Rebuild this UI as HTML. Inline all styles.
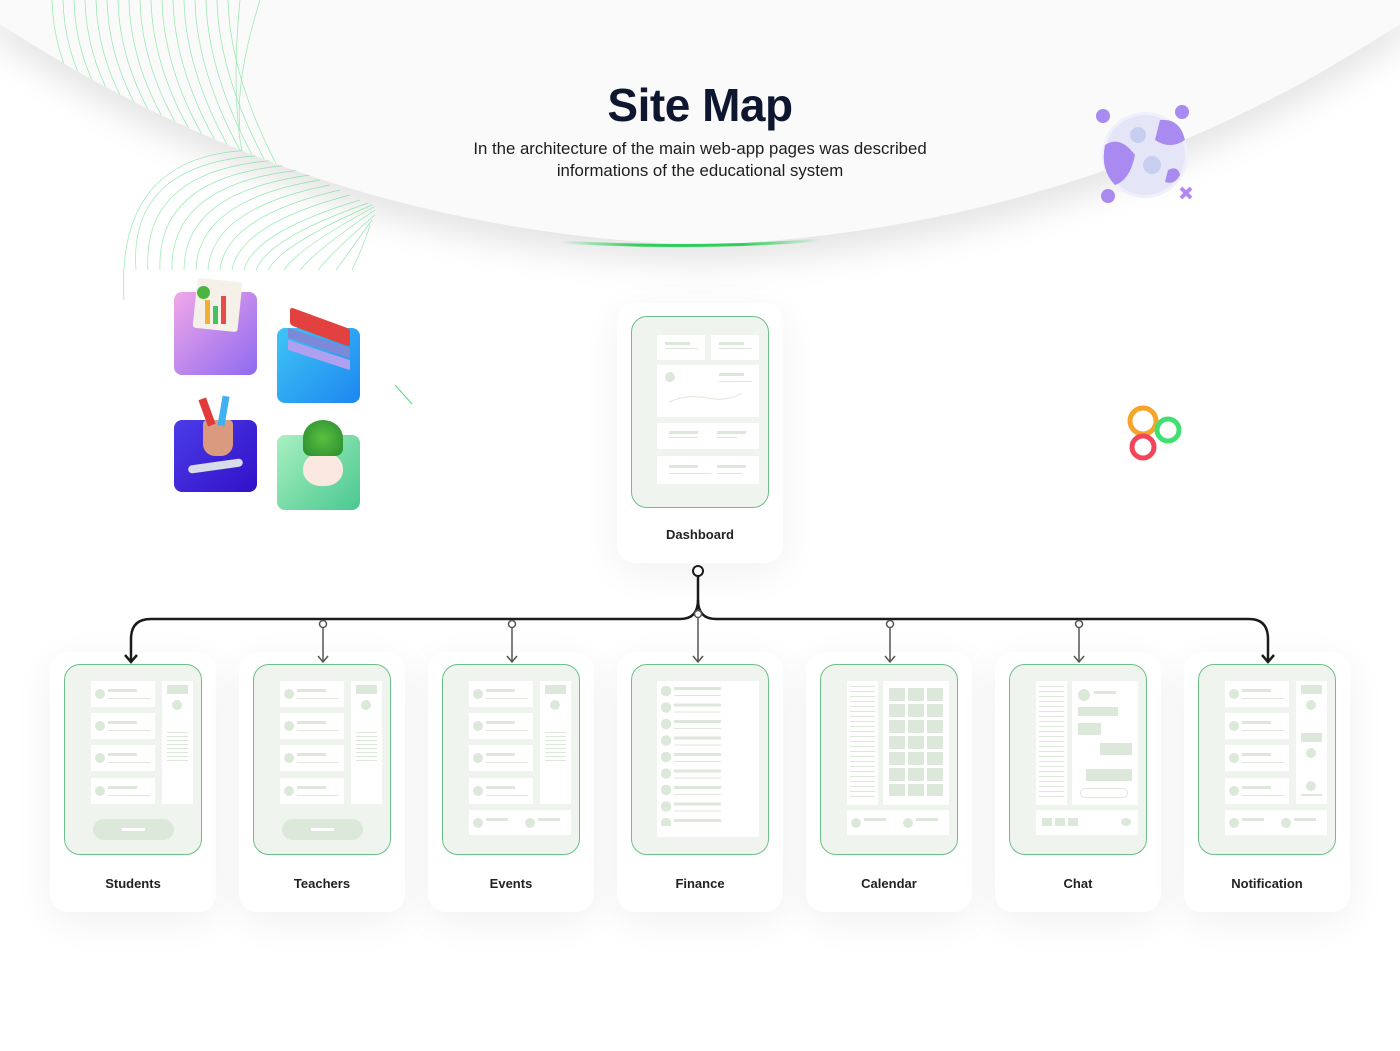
<!DOCTYPE html>
<html><head><meta charset="utf-8"><style>
*{margin:0;padding:0;box-sizing:border-box}
body{width:1400px;height:1051px;background:#fff;position:relative;overflow:hidden;font-family:"Liberation Sans",sans-serif}
.abs{position:absolute}
.card{position:absolute;width:166px;height:260px;background:#fff;border-radius:18px;box-shadow:0 10px 40px rgba(0,0,0,0.06)}
.scr{position:absolute;left:14px;top:12px;width:138px;height:191px;background:#eff5ee;border:1.5px solid #6cbf88;border-radius:16px;overflow:hidden}
.lbl{position:absolute;left:0;width:100%;top:224px;text-align:center;font-size:13px;color:#222;font-weight:bold}
.w{position:absolute;background:#fff}
.g{position:absolute;background:#dce8d9}
.c{position:absolute;background:#dce8d9;border-radius:50%}
.ln{position:absolute;height:2px;background:#dce8d9}
</style></head><body>
<svg class="abs" style="left:0;top:0" width="1400" height="320">
<defs><filter id="sh" x="-10%" y="-20%" width="120%" height="160%"><feDropShadow dx="0" dy="18" stdDeviation="16" flood-color="#000" flood-opacity="0.10"/></filter>
<linearGradient id="gl" x1="0" x2="1"><stop offset="0" stop-color="#2fce5a" stop-opacity="0"/><stop offset="0.3" stop-color="#2fce5a"/><stop offset="0.7" stop-color="#2fce5a"/><stop offset="1" stop-color="#2fce5a" stop-opacity="0"/></linearGradient>
<clipPath id="above"><path d="M-20 0 L-20 10 Q 300 230 700 245 Q 1100 230 1420 10 L1420 0 Z"/></clipPath>
<clipPath id="below"><path d="M-20 10 Q 300 230 700 245 L700 320 L-20 320 Z"/></clipPath></defs>
<path d="M-20 0 L-20 10 Q 300 230 700 245 Q 1100 230 1420 10 L1420 0 Z" fill="#f9faf9" filter="url(#sh)"/>
<path d="M560 242 Q 700 250 820 240" stroke="url(#gl)" stroke-width="3" fill="none"/>
<g fill="none" stroke="#4fdc7a" stroke-width="0.7" opacity="0.6" clip-path="url(#above)">
<path d="M52 0 Q 55 120 190 200"/><path d="M63 0 Q 66 120 200 205"/><path d="M74 0 Q 77 120 210 210"/><path d="M85 0 Q 88 120 220 215"/><path d="M96 0 Q 99 120 230 220"/><path d="M107 0 Q 110 120 240 225"/><path d="M118 0 Q 121 120 250 230"/><path d="M129 0 Q 132 120 260 235"/><path d="M140 0 Q 143 120 270 240"/><path d="M151 0 Q 154 120 280 245"/><path d="M162 0 Q 165 120 290 250"/><path d="M173 0 Q 176 120 300 255"/><path d="M184 0 Q 187 120 310 260"/><path d="M195 0 Q 198 120 320 265"/><path d="M206 0 Q 209 120 330 270"/><path d="M217 0 Q 220 120 340 275"/><path d="M228 0 Q 231 120 350 280"/><path d="M240 0 Q 232 80 240 140 L250 200"/><path d="M260 0 Q 235 80 240 130"/>
</g>
<g fill="none" stroke="#4fdc7a" stroke-width="0.7" opacity="0.6" clip-path="url(#below)">
<path d="M124 300 Q 115 150 260 150"/><path d="M136 270 Q 128 160 270 155"/><path d="M148 270 Q 142 168 280 160"/><path d="M160 270 Q 156 176 290 165"/><path d="M172 270 Q 170 184 300 170"/><path d="M184 270 Q 184 192 310 175"/><path d="M196 270 Q 198 200 320 180"/><path d="M208 270 Q 212 208 330 185"/><path d="M220 270 Q 226 216 340 190"/><path d="M232 270 Q 240 224 350 195"/><path d="M244 270 Q 254 232 360 200"/><path d="M256 270 Q 268 238 368 203"/><path d="M268 270 Q 282 244 372 205"/><path d="M284 270 Q 298 248 374 207"/><path d="M300 270 Q 316 250 375 210"/><path d="M318 270 Q 334 250 375 215"/><path d="M336 270 Q 352 248 372 220"/><path d="M352 270 Q 364 245 370 225"/>
</g>
</svg>
<div class="abs" style="left:0;width:1400px;top:78px;text-align:center;font-size:46px;font-weight:bold;color:#0e1630;letter-spacing:-0.5px">Site Map</div>
<div class="abs" style="left:0;width:1400px;top:138px;text-align:center;font-size:16.8px;line-height:22px;color:#1d1d1d">In the architecture of the main web-app pages was described<br>informations of the educational system</div>

<svg class="abs" style="left:1090px;top:100px" width="110" height="110">
<circle cx="55" cy="55" r="43" fill="#eef0fb"/><circle cx="55" cy="55" r="40" fill="#e4e6f7"/>
<path d="M15 45 Q 30 35 45 55 Q 40 80 25 85 Q 10 70 15 45Z" fill="#a88af0"/>
<path d="M70 20 Q 90 18 95 40 Q 80 50 65 40 Z" fill="#a88af0"/>
<path d="M78 70 Q 88 65 90 75 Q 85 85 75 82Z" fill="#a88af0"/>
<circle cx="48" cy="35" r="8" fill="#c8cef0"/><circle cx="62" cy="65" r="9" fill="#c8cef0"/>
<circle cx="13" cy="16" r="7" fill="#a88af0"/><circle cx="92" cy="12" r="7" fill="#a88af0"/><circle cx="18" cy="96" r="7" fill="#a88af0"/>
<path d="M91 88 l10 10 M101 88 l-10 10" stroke="#b58af0" stroke-width="4"/>
</svg>
<svg class="abs" style="left:1120px;top:400px" width="70" height="70">
<circle cx="23" cy="21" r="13" fill="none" stroke="#f7a52a" stroke-width="5"/>
<circle cx="48" cy="30" r="11" fill="none" stroke="#3fe070" stroke-width="5"/>
<circle cx="23" cy="47" r="11" fill="none" stroke="#f2455a" stroke-width="5"/>
</svg>
<svg class="abs" style="left:392px;top:382px" width="24" height="26"><path d="M3 3 L20 22" stroke="#4fdc7a" stroke-width="1"/></svg>

<div class="abs" style="left:174px;top:292px;width:83px;height:83px;border-radius:8px;background:linear-gradient(135deg,#f0a8e8,#8e6af0)"></div>
<div class="abs" style="left:195px;top:280px;width:45px;height:50px;background:#f6f1e8;border-radius:3px;transform:rotate(6deg)"></div>
<div class="abs" style="left:205px;top:300px;width:5px;height:24px;background:#f0b030"></div><div class="abs" style="left:213px;top:306px;width:5px;height:18px;background:#46c060"></div><div class="abs" style="left:221px;top:296px;width:5px;height:28px;background:#e84a4a"></div>
<div class="abs" style="left:197px;top:286px;width:13px;height:13px;border-radius:50%;background:#4ab540"></div>
<div class="abs" style="left:277px;top:328px;width:83px;height:75px;border-radius:8px;background:linear-gradient(135deg,#3fc5f5,#1d86f0)"></div>
<div class="abs" style="left:290px;top:318px;width:60px;height:18px;background:#e2413f;border-radius:3px;transform:skewY(20deg)"></div>
<div class="abs" style="left:288px;top:338px;width:62px;height:10px;background:#7c88d8;transform:skewY(18deg)"></div>
<div class="abs" style="left:288px;top:350px;width:62px;height:10px;background:#b0a0f0;transform:skewY(18deg)"></div>
<div class="abs" style="left:174px;top:420px;width:83px;height:72px;border-radius:8px;background:linear-gradient(135deg,#4a3de8,#3210c8)"></div>
<div class="abs" style="left:203px;top:420px;width:30px;height:36px;background:#d99a80;border-radius:4px 4px 12px 12px"></div>
<div class="abs" style="left:203px;top:398px;width:8px;height:28px;background:#e03a3a;transform:rotate(-20deg)"></div>
<div class="abs" style="left:220px;top:396px;width:7px;height:30px;background:#40b0f0;transform:rotate(10deg)"></div>
<div class="abs" style="left:188px;top:462px;width:55px;height:8px;background:#d8dce8;border-radius:4px;transform:rotate(-8deg)"></div>
<div class="abs" style="left:277px;top:435px;width:83px;height:75px;border-radius:8px;background:linear-gradient(135deg,#a8f0c0,#4ac890)"></div>
<div class="abs" style="left:303px;top:452px;width:40px;height:34px;background:#fbe8e0;border-radius:50% 50% 45% 45%"></div>
<div class="abs" style="left:303px;top:420px;width:40px;height:36px;background:radial-gradient(circle,#58c040,#2a8a30);border-radius:50% 50% 20% 20%"></div>

<!-- Dashboard -->
<div class="card" style="left:617px;top:303px">
<div class="scr" style="top:13px;height:192px">
<div class="w" style="left:25px;top:18px;width:48px;height:25px"><div class="g" style="left:8px;top:7px;width:25px;height:3px"></div><div class="ln" style="left:8px;top:13px;width:33px;height:1px"></div></div>
<div class="w" style="left:79px;top:18px;width:48px;height:25px"><div class="g" style="left:8px;top:7px;width:25px;height:3px"></div><div class="ln" style="left:8px;top:13px;width:33px;height:1px"></div></div>
<div class="w" style="left:25px;top:48px;width:102px;height:52px"><div class="c" style="left:8px;top:7px;width:10px;height:10px"></div><div class="g" style="left:62px;top:8px;width:25px;height:3px"></div><div class="ln" style="left:62px;top:16px;width:33px;height:1px"></div>
<svg style="position:absolute;left:10px;top:25px" width="80" height="15"><path d="M2 12 Q20 4 40 8 Q60 12 75 3" stroke="#dce8d9" fill="none"/></svg></div>
<div class="w" style="left:25px;top:106px;width:102px;height:26px"><div class="g" style="left:12px;top:8px;width:29px;height:3px"></div><div class="ln" style="left:12px;top:14px;width:29px;height:1px"></div><div class="g" style="left:60px;top:8px;width:29px;height:3px"></div><div class="ln" style="left:60px;top:14px;width:20px;height:1px"></div></div>
<div class="w" style="left:25px;top:139px;width:102px;height:28px"><div class="g" style="left:12px;top:9px;width:29px;height:3px"></div><div class="ln" style="left:12px;top:17px;width:42px;height:1px"></div><div class="g" style="left:60px;top:9px;width:29px;height:3px"></div><div class="ln" style="left:60px;top:17px;width:25px;height:1px"></div></div>
</div>
<div class="lbl" style="top:224px">Dashboard</div>
</div>

<div class="card" style="left:50px;top:652px"><div class="scr">
<div class="w" style="left:26px;top:16px;width:64px;height:26px"><div class="c" style="left:4px;top:8px;width:10px;height:10px"></div><div class="g" style="left:17px;top:8px;width:29px;height:3px"></div><div class="ln" style="left:17px;top:17px;width:42px;height:1px"></div></div>
<div class="w" style="left:26px;top:48px;width:64px;height:26px"><div class="c" style="left:4px;top:8px;width:10px;height:10px"></div><div class="g" style="left:17px;top:8px;width:29px;height:3px"></div><div class="ln" style="left:17px;top:17px;width:42px;height:1px"></div></div>
<div class="w" style="left:26px;top:80px;width:64px;height:26px"><div class="c" style="left:4px;top:8px;width:10px;height:10px"></div><div class="g" style="left:17px;top:8px;width:29px;height:3px"></div><div class="ln" style="left:17px;top:17px;width:42px;height:1px"></div></div>
<div class="w" style="left:26px;top:113px;width:64px;height:26px"><div class="c" style="left:4px;top:8px;width:10px;height:10px"></div><div class="g" style="left:17px;top:8px;width:29px;height:3px"></div><div class="ln" style="left:17px;top:17px;width:42px;height:1px"></div></div>
<div class="w" style="left:97px;top:16px;width:31px;height:123px"><div class="g" style="left:5px;top:4px;width:21px;height:9px"></div><div class="c" style="left:10px;top:19px;width:10px;height:10px"></div><div class="ln" style="left:5px;top:51px;width:21px;height:30px;background:repeating-linear-gradient(#dce8d9 0 1px,transparent 1px 4px)"></div></div>
<div class="g" style="left:28px;top:154px;width:81px;height:21px;border-radius:11px"><div class="w" style="left:29px;top:9px;width:23px;height:3px"></div></div>
</div><div class="lbl">Students</div></div>

<div class="card" style="left:239px;top:652px"><div class="scr">
<div class="w" style="left:26px;top:16px;width:64px;height:26px"><div class="c" style="left:4px;top:8px;width:10px;height:10px"></div><div class="g" style="left:17px;top:8px;width:29px;height:3px"></div><div class="ln" style="left:17px;top:17px;width:42px;height:1px"></div></div>
<div class="w" style="left:26px;top:48px;width:64px;height:26px"><div class="c" style="left:4px;top:8px;width:10px;height:10px"></div><div class="g" style="left:17px;top:8px;width:29px;height:3px"></div><div class="ln" style="left:17px;top:17px;width:42px;height:1px"></div></div>
<div class="w" style="left:26px;top:80px;width:64px;height:26px"><div class="c" style="left:4px;top:8px;width:10px;height:10px"></div><div class="g" style="left:17px;top:8px;width:29px;height:3px"></div><div class="ln" style="left:17px;top:17px;width:42px;height:1px"></div></div>
<div class="w" style="left:26px;top:113px;width:64px;height:26px"><div class="c" style="left:4px;top:8px;width:10px;height:10px"></div><div class="g" style="left:17px;top:8px;width:29px;height:3px"></div><div class="ln" style="left:17px;top:17px;width:42px;height:1px"></div></div>
<div class="w" style="left:97px;top:16px;width:31px;height:123px"><div class="g" style="left:5px;top:4px;width:21px;height:9px"></div><div class="c" style="left:10px;top:19px;width:10px;height:10px"></div><div class="ln" style="left:5px;top:51px;width:21px;height:30px;background:repeating-linear-gradient(#dce8d9 0 1px,transparent 1px 4px)"></div></div>
<div class="g" style="left:28px;top:154px;width:81px;height:21px;border-radius:11px"><div class="w" style="left:29px;top:9px;width:23px;height:3px"></div></div>
</div><div class="lbl">Teachers</div></div>

<div class="card" style="left:428px;top:652px"><div class="scr">
<div class="w" style="left:26px;top:16px;width:64px;height:26px"><div class="c" style="left:4px;top:8px;width:10px;height:10px"></div><div class="g" style="left:17px;top:8px;width:29px;height:3px"></div><div class="ln" style="left:17px;top:17px;width:42px;height:1px"></div></div>
<div class="w" style="left:26px;top:48px;width:64px;height:26px"><div class="c" style="left:4px;top:8px;width:10px;height:10px"></div><div class="g" style="left:17px;top:8px;width:29px;height:3px"></div><div class="ln" style="left:17px;top:17px;width:42px;height:1px"></div></div>
<div class="w" style="left:26px;top:80px;width:64px;height:26px"><div class="c" style="left:4px;top:8px;width:10px;height:10px"></div><div class="g" style="left:17px;top:8px;width:29px;height:3px"></div><div class="ln" style="left:17px;top:17px;width:42px;height:1px"></div></div>
<div class="w" style="left:26px;top:113px;width:64px;height:26px"><div class="c" style="left:4px;top:8px;width:10px;height:10px"></div><div class="g" style="left:17px;top:8px;width:29px;height:3px"></div><div class="ln" style="left:17px;top:17px;width:42px;height:1px"></div></div>
<div class="w" style="left:97px;top:16px;width:31px;height:123px"><div class="g" style="left:5px;top:4px;width:21px;height:9px"></div><div class="c" style="left:10px;top:19px;width:10px;height:10px"></div><div class="ln" style="left:5px;top:51px;width:21px;height:30px;background:repeating-linear-gradient(#dce8d9 0 1px,transparent 1px 4px)"></div></div>
<div class="w" style="left:26px;top:145px;width:102px;height:25px"><div class="c" style="left:4px;top:8px;width:10px;height:10px"></div><div class="g" style="left:17px;top:8px;width:22px;height:3px"></div><div class="c" style="left:56px;top:8px;width:10px;height:10px"></div><div class="g" style="left:69px;top:8px;width:22px;height:3px"></div></div>
</div><div class="lbl">Events</div></div>

<div class="card" style="left:617px;top:652px"><div class="scr">
<div class="w" style="left:25px;top:16px;width:102px;height:156px">
<div style="position:absolute;left:4px;top:5px;width:10px;height:140px;background:radial-gradient(circle at 5px 5px,#dce8d9 5px,transparent 5.5px) 0 0/10px 16.5px repeat-y"></div>
<div style="position:absolute;left:17px;top:6px;width:47px;height:140px;background:repeating-linear-gradient(#dce8d9 0 3px,transparent 3px 8px,#dce8d9 8px 9px,transparent 9px 16.5px)"></div>
</div>
</div><div class="lbl">Finance</div></div>

<div class="card" style="left:806px;top:652px"><div class="scr">
<div class="w" style="left:26px;top:16px;width:31px;height:124px"><div style="position:absolute;left:3px;top:5px;width:25px;height:115px;background:repeating-linear-gradient(#dce8d9 0 1px,transparent 1px 5px)"></div></div>
<div class="w" style="left:62px;top:16px;width:66px;height:124px"><div style="position:absolute;left:6px;top:7px;width:54px;height:108px;background:repeating-linear-gradient(90deg,#dce8d9 0 16px,transparent 16px 19px)"></div><div style="position:absolute;left:6px;top:7px;width:54px;height:108px;background:repeating-linear-gradient(transparent 0 13px,#fff 13px 16px)"></div></div>
<div class="w" style="left:26px;top:145px;width:102px;height:25px"><div class="c" style="left:4px;top:8px;width:10px;height:10px"></div><div class="g" style="left:17px;top:8px;width:22px;height:3px"></div><div class="c" style="left:56px;top:8px;width:10px;height:10px"></div><div class="g" style="left:69px;top:8px;width:22px;height:3px"></div></div>
</div><div class="lbl">Calendar</div></div>

<div class="card" style="left:995px;top:652px"><div class="scr">
<div class="w" style="left:26px;top:16px;width:31px;height:124px"><div style="position:absolute;left:3px;top:5px;width:25px;height:115px;background:repeating-linear-gradient(#dce8d9 0 1px,transparent 1px 5px)"></div></div>
<div class="w" style="left:62px;top:16px;width:66px;height:124px">
<div class="c" style="left:6px;top:8px;width:12px;height:12px"></div><div class="g" style="left:22px;top:10px;width:22px;height:3px"></div>
<div class="g" style="left:6px;top:26px;width:40px;height:9px"></div><div class="g" style="left:6px;top:42px;width:23px;height:12px"></div>
<div class="g" style="left:28px;top:62px;width:32px;height:12px"></div><div class="g" style="left:14px;top:88px;width:46px;height:12px"></div>
<div style="position:absolute;left:8px;top:107px;width:48px;height:10px;border:1px solid #dce8d9;border-radius:5px"></div></div>
<div class="w" style="left:26px;top:145px;width:102px;height:25px"><div class="g" style="left:6px;top:8px;width:10px;height:8px"></div><div class="g" style="left:19px;top:8px;width:10px;height:8px"></div><div class="g" style="left:32px;top:8px;width:10px;height:8px"></div><div class="c" style="left:85px;top:8px;width:10px;height:8px"></div></div>
</div><div class="lbl">Chat</div></div>

<div class="card" style="left:1184px;top:652px"><div class="scr">
<div class="w" style="left:26px;top:16px;width:64px;height:26px"><div class="c" style="left:4px;top:8px;width:10px;height:10px"></div><div class="g" style="left:17px;top:8px;width:29px;height:3px"></div><div class="ln" style="left:17px;top:17px;width:42px;height:1px"></div></div>
<div class="w" style="left:26px;top:48px;width:64px;height:26px"><div class="c" style="left:4px;top:8px;width:10px;height:10px"></div><div class="g" style="left:17px;top:8px;width:29px;height:3px"></div><div class="ln" style="left:17px;top:17px;width:42px;height:1px"></div></div>
<div class="w" style="left:26px;top:80px;width:64px;height:26px"><div class="c" style="left:4px;top:8px;width:10px;height:10px"></div><div class="g" style="left:17px;top:8px;width:29px;height:3px"></div><div class="ln" style="left:17px;top:17px;width:42px;height:1px"></div></div>
<div class="w" style="left:26px;top:113px;width:64px;height:26px"><div class="c" style="left:4px;top:8px;width:10px;height:10px"></div><div class="g" style="left:17px;top:8px;width:29px;height:3px"></div><div class="ln" style="left:17px;top:17px;width:42px;height:1px"></div></div>
<div class="w" style="left:97px;top:16px;width:31px;height:123px"><div class="g" style="left:5px;top:4px;width:21px;height:9px"></div><div class="c" style="left:10px;top:19px;width:10px;height:10px"></div><div class="g" style="left:5px;top:52px;width:21px;height:9px"></div><div class="c" style="left:10px;top:67px;width:10px;height:10px"></div><div class="c" style="left:10px;top:100px;width:10px;height:10px"></div><div class="ln" style="left:5px;top:113px;width:21px"></div></div>
<div class="w" style="left:26px;top:145px;width:102px;height:25px"><div class="c" style="left:4px;top:8px;width:10px;height:10px"></div><div class="g" style="left:17px;top:8px;width:22px;height:3px"></div><div class="c" style="left:56px;top:8px;width:10px;height:10px"></div><div class="g" style="left:69px;top:8px;width:22px;height:3px"></div></div>
</div><div class="lbl">Notification</div></div>

<!-- connectors on top -->
<svg class="abs" style="left:0;top:0" width="1400" height="1051">
<g fill="none" stroke="#1b1b1b" stroke-width="2.5">
<circle cx="698" cy="571" r="5" stroke-width="2" fill="#fff"/>
<path d="M698 576 L698 600 Q698 619 680 619 L151 619 Q131 619 131 639 L131 661"/>
<path d="M698 600 Q698 619 716 619 L1249 619 Q1268 619 1268 639 L1268 661"/>
<path d="M125 655 L131 662 L137 655"/><path d="M1262 655 L1268 662 L1274 655"/>
</g>
<g fill="#fff" stroke="#555" stroke-width="1.5">
<line x1="323" y1="628" x2="323" y2="662"/><circle cx="323" cy="624" r="3.5"/><path d="M318 656 L323 662 L328 656" fill="none"/>
<line x1="512" y1="628" x2="512" y2="662"/><circle cx="512" cy="624" r="3.5"/><path d="M507 656 L512 662 L517 656" fill="none"/>
<line x1="698" y1="618" x2="698" y2="662"/><circle cx="698" cy="614" r="3.5"/><path d="M693 656 L698 662 L703 656" fill="none"/>
<line x1="890" y1="628" x2="890" y2="662"/><circle cx="890" cy="624" r="3.5"/><path d="M885 656 L890 662 L895 656" fill="none"/>
<line x1="1079" y1="628" x2="1079" y2="662"/><circle cx="1079" cy="624" r="3.5"/><path d="M1074 656 L1079 662 L1084 656" fill="none"/>
</g>
</svg>
</body></html>
